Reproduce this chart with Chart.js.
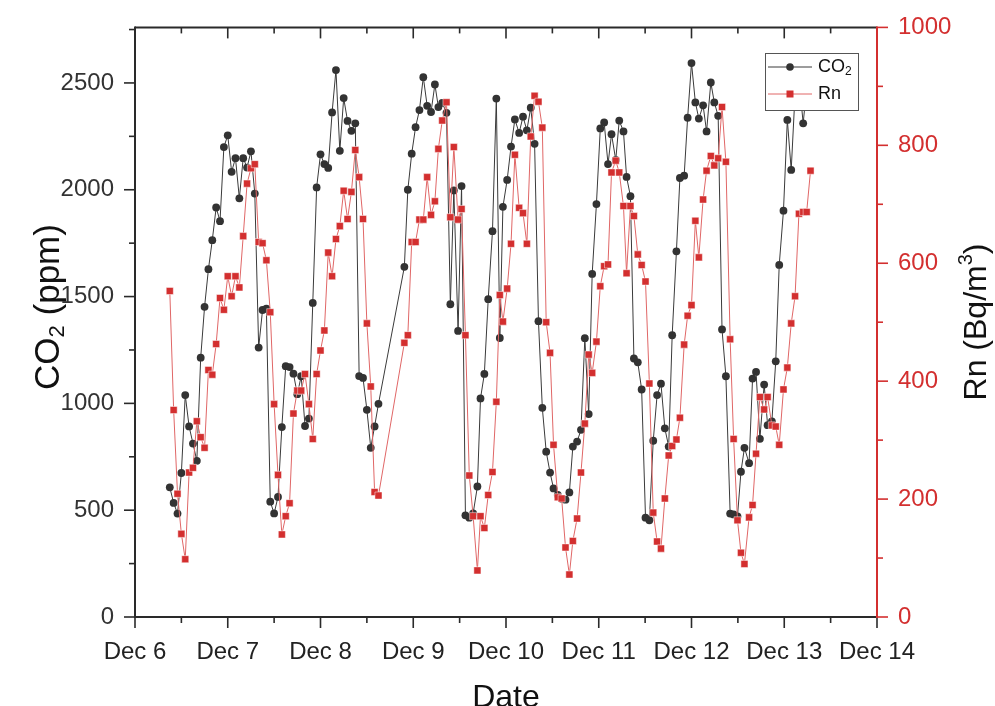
<!DOCTYPE html>
<html>
<head>
<meta charset="utf-8">
<script src="https://cdn.jsdelivr.net/npm/chart.js@4.4.1/dist/chart.umd.min.js"></script>
<style>
  html, body { margin: 0; padding: 0; background: #fff; }
  #wrap { width: 995px; height: 706px; }
</style>
</head>
<body>
<div id="wrap"><canvas id="chart" width="995" height="706"></canvas></div>
<script>
// sample times, hours after Dec 6 00:00 (gap with no samples after hour 63)
const hours = [
  9, 10, 11, 12, 13, 14, 15, 16, 17, 18, 19, 20, 21, 22, 23, 24, 25, 26, 27, 28, 29, 30, 31, 32, 33,
  34, 35, 36, 37, 38, 39, 40, 41, 42, 43, 44, 45, 46, 47, 48, 49, 50, 51, 52, 53, 54, 55, 56, 57, 58, 59, 60, 61, 62, 63,
  69.7, 70.6, 71.6, 72.6, 73.6, 74.6, 75.6, 76.6, 77.6, 78.5, 79.5, 80.6, 81.6, 82.5, 83.6, 84.5, 85.5, 86.5, 87.5, 88.6,
  89.4, 90.4, 91.4, 92.5, 93.5, 94.4, 95.2,
  96.3, 97.3, 98.3, 99.4, 100.4, 101.4, 102.4, 103.4, 104.4, 105.4, 106.4, 107.4, 108.3, 109.4, 110.4, 111.4, 112.4,
  113.3, 114.4, 115.4, 116.4, 117.4, 118.3, 119.4, 120.4, 121.4, 122.4, 123.3, 124.4, 125.3, 126.4,
  127.2, 128.2, 129.1, 130.1, 131.1, 132.1, 133.1, 134.1, 135.1, 136.1, 137.1, 138.1, 139.0, 140.1, 141.0, 142.1,
  143.0, 144.0, 145.0, 145.9, 147.0, 147.9, 149.0, 149.9, 150.9, 151.9, 152.9, 154.0, 154.9, 155.9, 156.8, 157.7,
  158.9, 159.8, 160.7, 161.7, 162.8, 163.7, 164.8, 165.8, 166.7, 167.8, 168.8, 169.8, 170.8, 171.8, 172.9, 173.8, 174.8
];

// CO2 (ppm)
const co2 = [
  607, 534, 484, 674, 1039, 892, 812, 731, 1214, 1452, 1628, 1764, 1917, 1853, 2200, 2255, 2084, 2148, 1960, 2148,
  2104, 2180, 1982, 1261, 1437,
  1443, 540, 485, 562, 889, 1174, 1170, 1139, 1043, 1127, 894, 929, 1470, 2011, 2166, 2120, 2102, 2362, 2560, 2182,
  2429, 2322, 2276, 2311, 1128, 1119, 970, 792, 892, 998,
  1639, 2000, 2169, 2293, 2373, 2527, 2393, 2364, 2493, 2387, 2407, 2360, 1464, 1997, 1339, 2017, 476, 465, 485, 611,
  1023, 1138, 1488, 1806, 2427, 1306, 1920,
  2046, 2202, 2329, 2266, 2342, 2278, 2384, 2215, 1385, 979, 774, 676, 602, 571, 553, 549, 583, 798, 821, 876,
  1305, 950, 1606, 1933, 2287, 2315, 2120, 2260, 2140, 2324, 2273,
  2060, 1970, 1210, 1192, 1065, 465, 453, 825, 1039, 1092, 883, 798, 1319, 1712, 2055, 2066, 2337, 2593, 2409, 2333,
  2395, 2273, 2502, 2409, 2346, 1346, 1127, 484, 480, 471, 680, 792,
  720, 1116, 1147, 834, 1088, 898, 916, 1197, 1648, 1902, 2327, 2093, 2450, 2520, 2311, 2480
];

// Rn (Bq/m3)
const rn = [
  553, 351, 209, 141, 98, 245, 253, 332, 305, 287, 419, 411, 463, 541, 521, 578, 544, 578, 559, 646,
  735, 761, 768, 636, 634,
  605, 517, 361, 241, 140, 171, 193, 345, 384, 384, 412, 361, 302, 412, 452, 486, 618, 578, 641, 663,
  723, 675, 721, 792, 746, 675, 498, 391, 212, 206,
  465, 478, 636, 636, 674, 674, 746, 682, 705, 794, 842, 873, 678, 797, 674, 692, 478, 240, 171, 79,
  171, 151, 207, 246, 365, 546, 501,
  557, 633, 784, 694, 685, 633, 815, 884, 874, 830, 500, 448, 292, 203, 201, 118, 72, 129, 167, 245,
  328, 445, 414, 467, 561, 595, 598, 754, 774, 754, 697,
  583, 697, 680, 615, 597, 569, 396, 177, 128, 116, 201, 274, 290, 301, 338, 462, 511, 529, 672, 610,
  708, 757, 782, 766, 778, 865, 772, 471, 302, 164, 109, 90,
  169, 190, 277, 373, 352, 373, 325, 323, 292, 386, 423, 498, 544, 684, 687, 687, 757
];

const dayTicks = [6, 7, 8, 9, 10, 11, 12, 13, 14];
const co2Ticks = [0, 500, 1000, 1500, 2000, 2500];
const rnTicks = [0, 200, 400, 600, 800, 1000];

const FONT = "'Liberation Sans', Arial, sans-serif";
const RED = '#d32f2f';
const INK = '#2a2a2a';

const toDay = h => 6 + h / 24;

function mids(ticks, max) {
  const step = ticks[1] - ticks[0];
  const out = [];
  for (let i = 0; i < ticks.length; i++) {
    const v = ticks[i] + step / 2;
    if (v <= max) out.push(v);
  }
  return out;
}

// rich text: parts of [text, size, dy]
function richWidth(ctx, parts) {
  let w = 0;
  parts.forEach(([t, s]) => { ctx.font = `${s}px ${FONT}`; w += ctx.measureText(t).width; });
  return w;
}
function drawRich(ctx, parts, x, y) {
  let cx = x;
  parts.forEach(([t, s, dy]) => {
    ctx.font = `${s}px ${FONT}`;
    ctx.fillText(t, cx, y + (dy || 0));
    cx += ctx.measureText(t).width;
  });
}

const frame = {
  id: 'frame',
  afterDraw(chart) {
    const { ctx, chartArea: a, scales } = chart;
    const sx = scales.x, sy = scales.y, sr = scales.y2;
    ctx.save();

    const line = (x1, y1, x2, y2, color, w) => {
      ctx.strokeStyle = color;
      ctx.lineWidth = w || 2;
      ctx.beginPath();
      ctx.moveTo(x1, y1);
      ctx.lineTo(x2, y2);
      ctx.stroke();
    };

    // ticks: left (out), bottom (out), top (in), right (out)
    co2Ticks.forEach(v => { const y = sy.getPixelForValue(v); line(a.left - 11, y, a.left, y, INK, 1.6); });
    mids(co2Ticks, sy.max).forEach(v => { const y = sy.getPixelForValue(v); line(a.left - 6, y, a.left, y, INK, 1.6); });
    dayTicks.forEach(v => {
      const x = sx.getPixelForValue(v);
      line(x, a.bottom, x, a.bottom + 11, INK, 1.6);
      line(x, a.top, x, a.top + 11, INK, 1.6);
    });
    mids(dayTicks, sx.max).forEach(v => {
      const x = sx.getPixelForValue(v);
      line(x, a.bottom, x, a.bottom + 6, INK, 1.6);
      line(x, a.top, x, a.top + 6, INK, 1.6);
    });
    rnTicks.forEach(v => { const y = sr.getPixelForValue(v); line(a.right, y, a.right + 11, y, RED, 1.6); });
    mids(rnTicks, sr.max).forEach(v => { const y = sr.getPixelForValue(v); line(a.right, y, a.right + 6, y, RED, 1.6); });

    // frame lines
    line(a.left, a.top, a.right, a.top, INK, 2);
    line(a.left, a.bottom, a.right, a.bottom, INK, 2);
    line(a.left, a.top - 1, a.left, a.bottom + 1, INK, 2);
    line(a.right, a.top - 1, a.right, a.bottom + 1, RED, 2);

    // axis titles
    ctx.fillStyle = '#111';
    ctx.textBaseline = 'middle';
    const leftTitle = [['CO', 35], ['2', 22, 9], [' (ppm)', 35]];
    ctx.save();
    ctx.translate(49, 307);
    ctx.rotate(-Math.PI / 2);
    drawRich(ctx, leftTitle, -richWidth(ctx, leftTitle) / 2, 0);
    ctx.restore();

    const rightTitle = [['Rn (Bq/m', 32], ['3', 20, -11], [')', 32]];
    ctx.save();
    ctx.translate(977, 322);
    ctx.rotate(-Math.PI / 2);
    drawRich(ctx, rightTitle, -richWidth(ctx, rightTitle) / 2, 0);
    ctx.restore();

    ctx.textBaseline = 'alphabetic';
    ctx.font = `32px ${FONT}`;
    ctx.textAlign = 'center';
    ctx.fillText('Date', (a.left + a.right) / 2, 707);
    ctx.textAlign = 'left';

    // legend box
    const lx = 765, ly = 53, lw = 93, lh = 57;
    ctx.fillStyle = '#fff';
    ctx.fillRect(lx, ly, lw, lh);
    ctx.strokeStyle = '#555';
    ctx.lineWidth = 1;
    ctx.strokeRect(lx + 0.5, ly + 0.5, lw, lh);

    line(768, 67, 812, 67, '#3a3a3a', 1);
    ctx.fillStyle = '#333';
    ctx.beginPath();
    ctx.arc(790, 67, 3.8, 0, Math.PI * 2);
    ctx.fill();
    line(768, 94, 812, 94, '#e06666', 1);
    ctx.fillStyle = RED;
    ctx.fillRect(786.5, 90.5, 7, 7);

    ctx.fillStyle = '#111';
    ctx.textBaseline = 'middle';
    drawRich(ctx, [['CO', 18], ['2', 12, 5]], 818, 67);
    drawRich(ctx, [['Rn', 18]], 818, 94);

    ctx.restore();
  }
};

const tickFont = { family: FONT, size: 24 };
const plain = v => String(v);

new Chart(document.getElementById('chart'), {
  type: 'line',
  data: {
    datasets: [
      {
        label: 'CO2',
        data: co2.map((v, i) => ({ x: toDay(hours[i]), y: v })),
        yAxisID: 'y',
        order: 2,
        borderColor: '#3a3a3a',
        borderWidth: 1,
        pointRadius: 3.9,
        pointBackgroundColor: '#333',
        pointBorderColor: '#333',
        pointBorderWidth: 0,
        tension: 0,
      },
      {
        label: 'Rn',
        data: rn.map((v, i) => ({ x: toDay(hours[i]), y: v })),
        yAxisID: 'y2',
        order: 1,
        borderColor: '#e06666',
        borderWidth: 1,
        pointStyle: 'rect',
        pointRadius: 5,
        pointBackgroundColor: RED,
        pointBorderColor: 'rgba(255,255,255,0.8)',
        pointBorderWidth: 0.6,
        tension: 0,
      },
    ],
  },
  options: {
    responsive: false,
    animation: false,
    layout: { padding: { top: 18, left: 0, right: 0, bottom: 0 } },
    plugins: { legend: { display: false }, tooltip: { enabled: false } },
    scales: {
      x: {
        type: 'linear',
        min: 6, max: 14,
        afterBuildTicks: s => { s.ticks = dayTicks.map(v => ({ value: v })); },
        afterFit: s => { s.height = 89; },
        grid: { display: false },
        border: { display: false },
        ticks: { callback: v => 'Dec ' + v, font: tickFont, color: '#222', padding: 13, maxRotation: 0, autoSkip: false },
      },
      y: {
        position: 'left',
        min: 0, max: 2760,
        afterBuildTicks: s => { s.ticks = co2Ticks.map(v => ({ value: v })); },
        afterFit: s => { s.width = 135; },
        grid: { display: false },
        border: { display: false },
        ticks: { font: tickFont, color: '#333', padding: 13, callback: plain },
      },
      y2: {
        position: 'right',
        min: 0, max: 1000,
        afterBuildTicks: s => { s.ticks = rnTicks.map(v => ({ value: v })); },
        afterFit: s => { s.width = 118; },
        grid: { display: false },
        border: { display: false },
        ticks: { font: tickFont, color: RED, padding: 13, callback: plain },
      },
    },
  },
  plugins: [frame],
});
</script>
</body>
</html>
